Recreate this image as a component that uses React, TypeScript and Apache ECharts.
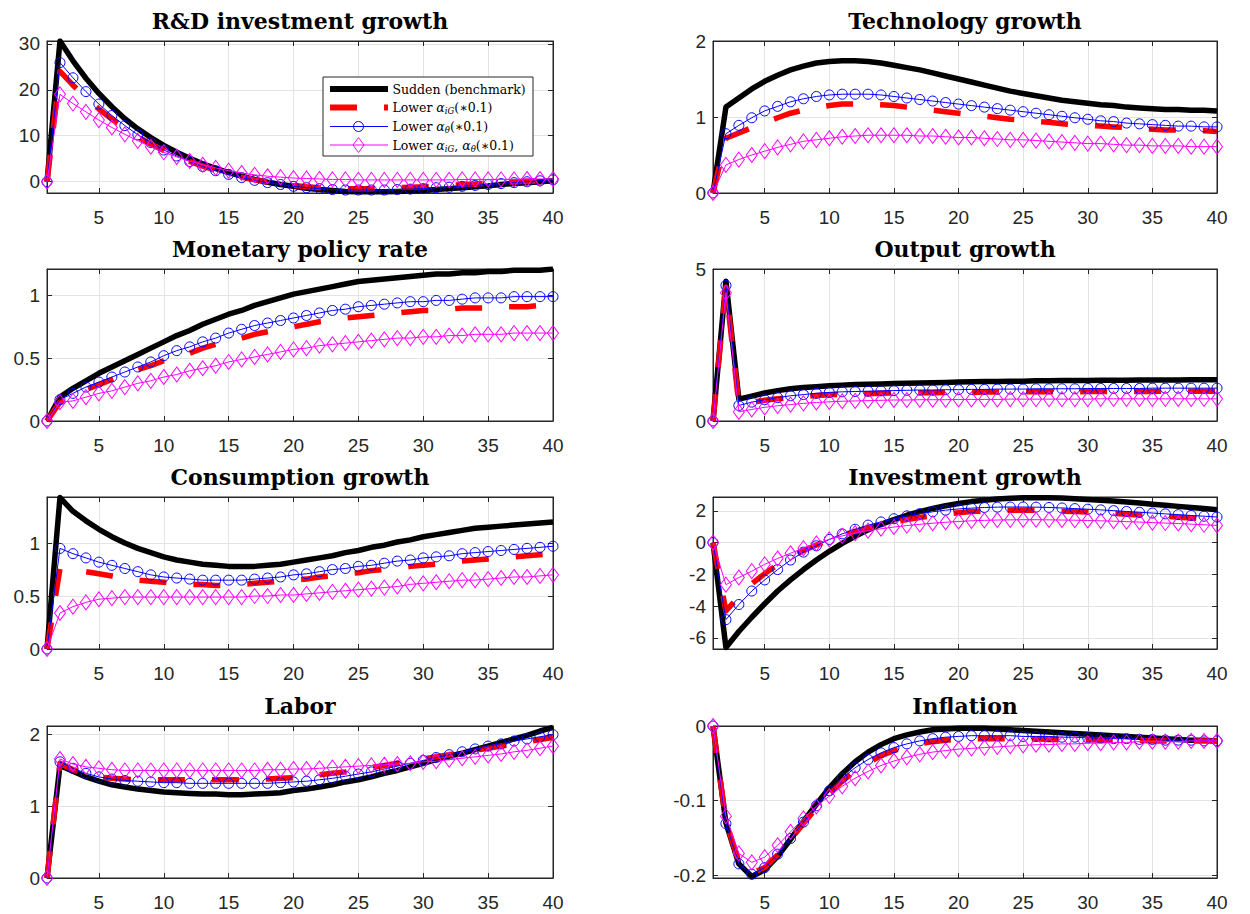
import React, { useEffect, useRef } from "react";
import * as echarts from "echarts";

// Horizon (quarters after the shock)
const periods = Array.from({ length: 40 }, (_, i) => i + 1);
const xTicks = [5, 10, 15, 20, 25, 30, 35, 40];

const scenarioNames = [
  "Sudden (benchmark)",
  "Lower αiG(∗0.1)",
  "Lower αθ(∗0.1)",
  "Lower αiG, αθ(∗0.1)",
];

// R&D investment growth
const rdSudden = [0, 30.6, 26.3, 22.5, 19.2, 16.3, 13.7, 11.5, 9.6, 7.9, 6.4, 5.1, 3.9, 2.9, 2.0, 1.2, 0.5, -0.1, -0.6, -1.0, -1.4, -1.7, -1.9, -2.1, -2.2, -2.2, -2.2, -2.1, -2.0, -1.9, -1.7, -1.5, -1.3, -1.1, -0.9, -0.6, -0.4, -0.2, 0.0, 0.2];
const rdLowIG = [0, 24.0, 21.0, 18.3, 15.8, 13.6, 11.6, 9.8, 8.2, 6.8, 5.5, 4.4, 3.4, 2.5, 1.7, 1.0, 0.4, -0.1, -0.5, -0.8, -1.1, -1.3, -1.4, -1.5, -1.5, -1.5, -1.4, -1.3, -1.2, -1.1, -0.9, -0.8, -0.6, -0.5, -0.3, -0.2, 0.0, 0.1, 0.2, 0.3];
const rdLowTheta = [0, 25.9, 22.6, 19.6, 16.9, 14.4, 12.2, 10.2, 8.5, 6.9, 5.6, 4.4, 3.3, 2.4, 1.6, 0.9, 0.3, -0.2, -0.6, -1.0, -1.3, -1.5, -1.7, -1.8, -1.8, -1.8, -1.8, -1.7, -1.6, -1.5, -1.3, -1.2, -1.0, -0.8, -0.6, -0.4, -0.2, 0.0, 0.2, 0.4];
const rdLowBoth = [0, 19.0, 17.0, 15.2, 13.4, 11.8, 10.3, 8.9, 7.6, 6.4, 5.4, 4.5, 3.7, 3.0, 2.4, 1.9, 1.5, 1.2, 1.0, 0.8, 0.7, 0.6, 0.5, 0.5, 0.4, 0.4, 0.4, 0.4, 0.4, 0.4, 0.4, 0.4, 0.5, 0.5, 0.5, 0.5, 0.5, 0.6, 0.6, 0.6];

// Technology growth
const techSudden = [0, 1.13, 1.25, 1.37, 1.47, 1.55, 1.62, 1.67, 1.71, 1.73, 1.74, 1.74, 1.73, 1.71, 1.68, 1.65, 1.62, 1.58, 1.54, 1.50, 1.46, 1.42, 1.38, 1.34, 1.31, 1.28, 1.25, 1.22, 1.20, 1.18, 1.16, 1.15, 1.13, 1.12, 1.11, 1.10, 1.10, 1.09, 1.09, 1.08];
const techLowIG = [0, 0.72, 0.79, 0.86, 0.93, 0.99, 1.05, 1.09, 1.13, 1.15, 1.17, 1.17, 1.17, 1.16, 1.15, 1.13, 1.11, 1.09, 1.07, 1.05, 1.03, 1.01, 0.99, 0.97, 0.96, 0.94, 0.93, 0.91, 0.90, 0.89, 0.88, 0.87, 0.86, 0.85, 0.84, 0.83, 0.83, 0.82, 0.82, 0.81];
const techLowTheta = [0, 0.78, 0.89, 0.99, 1.08, 1.14, 1.20, 1.24, 1.27, 1.29, 1.30, 1.30, 1.30, 1.29, 1.27, 1.25, 1.23, 1.21, 1.19, 1.17, 1.15, 1.13, 1.11, 1.09, 1.07, 1.05, 1.03, 1.01, 0.99, 0.97, 0.95, 0.94, 0.92, 0.91, 0.90, 0.89, 0.88, 0.88, 0.87, 0.87];
const techLowBoth = [0, 0.37, 0.44, 0.50, 0.55, 0.60, 0.64, 0.68, 0.70, 0.72, 0.74, 0.75, 0.76, 0.76, 0.76, 0.76, 0.75, 0.75, 0.74, 0.73, 0.73, 0.72, 0.71, 0.70, 0.70, 0.69, 0.68, 0.67, 0.66, 0.65, 0.65, 0.64, 0.63, 0.63, 0.62, 0.62, 0.62, 0.61, 0.61, 0.61];

// Monetary policy rate
const rateSudden = [0, 0.19, 0.26, 0.32, 0.38, 0.43, 0.48, 0.53, 0.58, 0.63, 0.68, 0.72, 0.77, 0.81, 0.85, 0.88, 0.92, 0.95, 0.98, 1.01, 1.03, 1.05, 1.07, 1.09, 1.11, 1.12, 1.13, 1.14, 1.15, 1.16, 1.17, 1.17, 1.18, 1.18, 1.19, 1.19, 1.20, 1.20, 1.20, 1.21];
const rateLowIG = [0, 0.15, 0.20, 0.25, 0.29, 0.33, 0.37, 0.41, 0.44, 0.48, 0.51, 0.54, 0.58, 0.61, 0.63, 0.66, 0.69, 0.71, 0.73, 0.75, 0.77, 0.79, 0.80, 0.82, 0.83, 0.84, 0.85, 0.86, 0.87, 0.88, 0.88, 0.89, 0.90, 0.90, 0.90, 0.91, 0.91, 0.91, 0.92, 0.92];
const rateLowTheta = [0, 0.17, 0.22, 0.27, 0.31, 0.35, 0.39, 0.43, 0.47, 0.52, 0.56, 0.59, 0.63, 0.66, 0.70, 0.73, 0.76, 0.78, 0.80, 0.82, 0.84, 0.86, 0.88, 0.89, 0.91, 0.92, 0.93, 0.94, 0.95, 0.95, 0.96, 0.96, 0.97, 0.98, 0.98, 0.98, 0.99, 0.99, 0.99, 0.99];
const rateLowBoth = [0, 0.15, 0.16, 0.19, 0.22, 0.24, 0.27, 0.30, 0.32, 0.35, 0.37, 0.40, 0.42, 0.44, 0.47, 0.49, 0.51, 0.53, 0.55, 0.57, 0.58, 0.60, 0.61, 0.62, 0.63, 0.64, 0.65, 0.66, 0.66, 0.67, 0.67, 0.68, 0.68, 0.69, 0.69, 0.69, 0.70, 0.70, 0.70, 0.70];

// Output growth
const outSudden = [0, 4.60, 0.72, 0.82, 0.92, 1.00, 1.06, 1.10, 1.13, 1.16, 1.18, 1.20, 1.21, 1.22, 1.23, 1.24, 1.25, 1.26, 1.27, 1.28, 1.29, 1.30, 1.30, 1.31, 1.31, 1.32, 1.32, 1.33, 1.33, 1.33, 1.34, 1.34, 1.34, 1.35, 1.35, 1.35, 1.35, 1.36, 1.36, 1.36];
const outLowIG = [0, 4.40, 0.55, 0.62, 0.68, 0.73, 0.77, 0.81, 0.84, 0.86, 0.88, 0.89, 0.90, 0.91, 0.92, 0.92, 0.93, 0.93, 0.94, 0.94, 0.94, 0.95, 0.95, 0.95, 0.96, 0.96, 0.96, 0.96, 0.96, 0.97, 0.97, 0.97, 0.97, 0.97, 0.97, 0.98, 0.98, 0.98, 0.98, 0.98];
const outLowTheta = [0, 4.46, 0.51, 0.62, 0.70, 0.77, 0.83, 0.87, 0.91, 0.94, 0.96, 0.97, 0.98, 0.99, 1.00, 1.01, 1.02, 1.02, 1.03, 1.03, 1.04, 1.04, 1.05, 1.05, 1.05, 1.06, 1.06, 1.06, 1.06, 1.07, 1.07, 1.07, 1.07, 1.07, 1.08, 1.08, 1.08, 1.08, 1.08, 1.08];
const outLowBoth = [0, 4.22, 0.30, 0.38, 0.45, 0.50, 0.54, 0.58, 0.61, 0.63, 0.65, 0.66, 0.67, 0.68, 0.69, 0.69, 0.70, 0.70, 0.70, 0.71, 0.71, 0.71, 0.71, 0.72, 0.72, 0.72, 0.72, 0.72, 0.72, 0.72, 0.73, 0.73, 0.73, 0.73, 0.73, 0.73, 0.73, 0.73, 0.73, 0.73];

// Consumption growth
const consSudden = [0, 1.43, 1.30, 1.21, 1.13, 1.06, 1.00, 0.95, 0.91, 0.87, 0.84, 0.82, 0.80, 0.79, 0.78, 0.78, 0.78, 0.79, 0.80, 0.82, 0.84, 0.86, 0.88, 0.91, 0.93, 0.96, 0.98, 1.01, 1.03, 1.06, 1.08, 1.10, 1.12, 1.14, 1.15, 1.16, 1.17, 1.18, 1.19, 1.20];
const consLowIG = [0, 0.76, 0.74, 0.73, 0.71, 0.69, 0.67, 0.65, 0.64, 0.63, 0.62, 0.61, 0.61, 0.60, 0.60, 0.61, 0.62, 0.63, 0.64, 0.65, 0.66, 0.68, 0.69, 0.71, 0.72, 0.74, 0.75, 0.76, 0.78, 0.79, 0.80, 0.82, 0.83, 0.84, 0.85, 0.86, 0.87, 0.88, 0.89, 0.90];
const consLowTheta = [0, 0.95, 0.90, 0.86, 0.82, 0.79, 0.76, 0.73, 0.70, 0.68, 0.67, 0.66, 0.65, 0.65, 0.65, 0.65, 0.66, 0.67, 0.68, 0.70, 0.71, 0.73, 0.75, 0.76, 0.78, 0.79, 0.81, 0.83, 0.84, 0.86, 0.87, 0.88, 0.90, 0.91, 0.92, 0.93, 0.94, 0.95, 0.96, 0.97];
const consLowBoth = [0, 0.34, 0.40, 0.44, 0.47, 0.48, 0.49, 0.49, 0.49, 0.49, 0.49, 0.49, 0.49, 0.49, 0.49, 0.49, 0.50, 0.50, 0.51, 0.51, 0.52, 0.53, 0.54, 0.55, 0.56, 0.57, 0.58, 0.59, 0.61, 0.62, 0.63, 0.64, 0.65, 0.65, 0.66, 0.67, 0.68, 0.68, 0.69, 0.70];

// Investment growth
const invSudden = [0, -6.6, -5.6, -4.7, -3.85, -3.05, -2.35, -1.7, -1.1, -0.55, -0.05, 0.4, 0.8, 1.15, 1.45, 1.72, 1.95, 2.15, 2.32, 2.46, 2.58, 2.67, 2.74, 2.79, 2.82, 2.83, 2.82, 2.80, 2.76, 2.72, 2.67, 2.62, 2.56, 2.49, 2.42, 2.35, 2.28, 2.21, 2.14, 2.07];
const invLowIG = [0, -4.3, -3.4, -2.6, -1.95, -1.4, -0.9, -0.5, -0.15, 0.15, 0.45, 0.7, 0.92, 1.12, 1.3, 1.45, 1.58, 1.7, 1.8, 1.88, 1.95, 1.99, 2.02, 2.04, 2.04, 2.03, 2.01, 1.98, 1.95, 1.92, 1.88, 1.84, 1.79, 1.74, 1.7, 1.65, 1.6, 1.55, 1.5, 1.45];
const invLowTheta = [0, -4.85, -3.9, -3.05, -2.35, -1.7, -1.1, -0.6, -0.2, 0.2, 0.55, 0.84, 1.1, 1.3, 1.5, 1.68, 1.82, 1.94, 2.04, 2.12, 2.17, 2.21, 2.23, 2.24, 2.24, 2.23, 2.21, 2.18, 2.14, 2.10, 2.06, 2.01, 1.96, 1.91, 1.86, 1.81, 1.76, 1.71, 1.66, 1.61];
const invLowBoth = [0, -2.65, -2.2, -1.8, -1.37, -1.0, -0.67, -0.35, -0.05, 0.2, 0.42, 0.6, 0.75, 0.87, 0.98, 1.07, 1.15, 1.22, 1.28, 1.33, 1.37, 1.40, 1.42, 1.43, 1.44, 1.44, 1.43, 1.42, 1.41, 1.39, 1.37, 1.35, 1.32, 1.29, 1.26, 1.23, 1.20, 1.16, 1.12, 1.08];

// Labor
const labSudden = [0, 1.57, 1.49, 1.41, 1.35, 1.30, 1.27, 1.24, 1.22, 1.20, 1.19, 1.18, 1.17, 1.17, 1.16, 1.16, 1.17, 1.18, 1.19, 1.22, 1.24, 1.27, 1.30, 1.34, 1.37, 1.41, 1.46, 1.50, 1.55, 1.60, 1.65, 1.70, 1.74, 1.79, 1.84, 1.89, 1.94, 1.99, 2.05, 2.10];
const labLowIG = [0, 1.60, 1.51, 1.45, 1.41, 1.39, 1.38, 1.37, 1.37, 1.37, 1.37, 1.37, 1.37, 1.37, 1.37, 1.37, 1.38, 1.38, 1.39, 1.40, 1.42, 1.44, 1.46, 1.48, 1.51, 1.54, 1.57, 1.60, 1.63, 1.66, 1.69, 1.72, 1.75, 1.78, 1.81, 1.84, 1.87, 1.90, 1.93, 1.96];
const labLowTheta = [0, 1.62, 1.53, 1.46, 1.41, 1.38, 1.36, 1.35, 1.34, 1.33, 1.33, 1.32, 1.32, 1.32, 1.32, 1.32, 1.32, 1.32, 1.33, 1.34, 1.35, 1.37, 1.39, 1.42, 1.45, 1.48, 1.52, 1.56, 1.60, 1.64, 1.68, 1.72, 1.76, 1.80, 1.84, 1.87, 1.91, 1.94, 1.97, 2.00];
const labLowBoth = [0, 1.66, 1.59, 1.55, 1.53, 1.51, 1.50, 1.50, 1.50, 1.50, 1.50, 1.50, 1.50, 1.50, 1.50, 1.50, 1.50, 1.51, 1.51, 1.52, 1.52, 1.53, 1.54, 1.55, 1.56, 1.57, 1.58, 1.59, 1.60, 1.62, 1.63, 1.65, 1.67, 1.69, 1.71, 1.73, 1.76, 1.78, 1.81, 1.84];

// Inflation
const infSudden = [0, -0.130, -0.185, -0.202, -0.193, -0.175, -0.152, -0.128, -0.105, -0.083, -0.064, -0.048, -0.035, -0.025, -0.017, -0.012, -0.008, -0.005, -0.004, -0.003, -0.003, -0.003, -0.004, -0.005, -0.006, -0.007, -0.008, -0.009, -0.010, -0.011, -0.012, -0.013, -0.014, -0.015, -0.016, -0.017, -0.018, -0.019, -0.019, -0.020];
const infLowIG = [0, -0.128, -0.182, -0.198, -0.190, -0.173, -0.152, -0.131, -0.110, -0.091, -0.074, -0.060, -0.049, -0.040, -0.033, -0.028, -0.024, -0.021, -0.019, -0.018, -0.017, -0.017, -0.017, -0.017, -0.017, -0.017, -0.018, -0.018, -0.018, -0.018, -0.019, -0.019, -0.019, -0.019, -0.020, -0.020, -0.020, -0.020, -0.020, -0.020];
const infLowTheta = [0, -0.131, -0.185, -0.199, -0.190, -0.172, -0.151, -0.129, -0.107, -0.087, -0.070, -0.056, -0.045, -0.036, -0.029, -0.024, -0.020, -0.017, -0.015, -0.014, -0.013, -0.013, -0.013, -0.013, -0.014, -0.014, -0.014, -0.015, -0.015, -0.016, -0.016, -0.017, -0.017, -0.018, -0.018, -0.019, -0.019, -0.019, -0.020, -0.020];
const infLowBoth = [0, -0.121, -0.171, -0.183, -0.176, -0.160, -0.142, -0.124, -0.108, -0.094, -0.081, -0.070, -0.061, -0.053, -0.047, -0.042, -0.038, -0.035, -0.033, -0.031, -0.030, -0.029, -0.028, -0.027, -0.026, -0.025, -0.025, -0.024, -0.024, -0.023, -0.023, -0.022, -0.022, -0.021, -0.021, -0.021, -0.021, -0.020, -0.020, -0.020];

// Panel titles, y-limits and y tick values
const panelTitles = [
  "R&D investment growth", "Technology growth",
  "Monetary policy rate", "Output growth",
  "Consumption growth", "Investment growth",
  "Labor", "Inflation",
];
const yLimits = [
  [-2.45, 30.6], [0, 2],
  [0, 1.21], [0, 5],
  [0, 1.435], [-6.7, 2.87],
  [0, 2.12], [-0.204, 0],
];
const yTicks = [
  [0, 10, 20, 30], [0, 1, 2],
  [0, 0.5, 1], [0, 5],
  [0, 0.5, 1], [-6, -4, -2, 0, 2],
  [0, 1, 2], [-0.2, -0.1, 0],
];
const panelData = [
  [rdSudden, rdLowIG, rdLowTheta, rdLowBoth],
  [techSudden, techLowIG, techLowTheta, techLowBoth],
  [rateSudden, rateLowIG, rateLowTheta, rateLowBoth],
  [outSudden, outLowIG, outLowTheta, outLowBoth],
  [consSudden, consLowIG, consLowTheta, consLowBoth],
  [invSudden, invLowIG, invLowTheta, invLowBoth],
  [labSudden, labLowIG, labLowTheta, labLowBoth],
  [infSudden, infLowIG, infLowTheta, infLowBoth],
];

const AXIS = "#262626";
const GRIDLINE = "#e3e3e3";
const BLUE = "#0000ff";
const MAGENTA = "#ff00ff";
const RED = "#ff0000";

const colLeft = [47, 713];
const colWidth = [506, 504];
const rowTop = [41, 269, 497, 726];
const rowHeight = 152;

const lineStyles = [
  { color: "#000000", width: 5.5, type: "solid" as any, symbol: "none", size: 0 as any },
  { color: RED, width: 5.5, type: [27, 27] as any, symbol: "none", size: 0 as any },
  { color: BLUE, width: 1, type: "solid" as any, symbol: "circle", size: 10 as any },
  { color: MAGENTA, width: 1, type: "solid" as any, symbol: "diamond", size: [11, 15] as any },
];

function buildOption() {
  const grids: any[] = [];
  const xAxes: any[] = [];
  const yAxes: any[] = [];
  const series: any[] = [];
  const graphics: any[] = [];

  panelTitles.forEach((title, i) => {
    const col = i % 2;
    const row = Math.floor(i / 2);
    const left = colLeft[col];
    const top = rowTop[row];
    const width = colWidth[col];
    grids.push({
      left, top, width, height: rowHeight,
      show: true, borderColor: AXIS, borderWidth: 1, backgroundColor: "#ffffff",
    });
    const tickLine = { lineStyle: { color: AXIS, width: 1 } };
    xAxes.push({
      type: "value", gridIndex: i, min: 1, max: 40,
      axisLine: { show: true, onZero: false, lineStyle: { color: AXIS, width: 1 } },
      axisTick: { show: true, inside: true, length: 5, customValues: xTicks, ...tickLine },
      axisLabel: {
        customValues: xTicks, fontSize: 19, color: AXIS, margin: 15,
        fontFamily: "Liberation Sans",
      },
      splitLine: { show: true, lineStyle: { color: GRIDLINE, width: 1 } },
    });
    xAxes.push({
      type: "value", gridIndex: i, min: 1, max: 40, position: "top",
      axisLine: { show: true, onZero: false, lineStyle: { color: AXIS, width: 1 } },
      axisTick: { show: true, inside: true, length: 5, customValues: xTicks, ...tickLine },
      axisLabel: { show: false },
      splitLine: { show: false },
    });
    const [ymin, ymax] = yLimits[i];
    yAxes.push({
      type: "value", gridIndex: i, min: ymin, max: ymax,
      axisLine: { show: true, onZero: false, lineStyle: { color: AXIS, width: 1 } },
      axisTick: { show: true, inside: true, length: 5, customValues: yTicks[i], ...tickLine },
      axisLabel: {
        customValues: yTicks[i], fontSize: 19, color: AXIS, margin: 7,
        fontFamily: "Liberation Sans", formatter: (v: number) => String(v),
      },
      splitLine: { show: true, lineStyle: { color: GRIDLINE, width: 1 } },
    });
    yAxes.push({
      type: "value", gridIndex: i, min: ymin, max: ymax, position: "right",
      axisLine: { show: true, onZero: false, lineStyle: { color: AXIS, width: 1 } },
      axisTick: { show: true, inside: true, length: 5, customValues: yTicks[i], ...tickLine },
      axisLabel: { show: false },
      splitLine: { show: false },
    });

    panelData[i].forEach((values, s) => {
      const st = lineStyles[s];
      series.push({
        type: "line",
        name: scenarioNames[s],
        xAxisIndex: 2 * i,
        yAxisIndex: 2 * i,
        data: values.map((v, k) => [periods[k], v]),
        symbol: st.symbol,
        symbolSize: st.size,
        showSymbol: st.symbol !== "none",
        clip: true,
        lineStyle: { color: st.color, width: st.width, type: st.type, cap: "butt", join: "round" },
        itemStyle: { color: "rgba(0,0,0,0)", borderColor: st.color, borderWidth: 1 },
        emphasis: { disabled: true },
        silent: true,
        z: 2 + s,
      });
    });

    graphics.push({
      type: "text",
      x: left + width / 2,
      y: top - 20,
      z: 50,
      style: {
        text: title,
        font: 'bold 22px "DejaVu Serif"',
        fill: "#000000",
        textAlign: "center",
        textVerticalAlign: "middle",
      },
    });
  });

  // Legend box inside the first panel, drawn above the gridlines and curves
  const lx = 323, ly = 77, lw = 210, lh = 79;
  const rowsY = [89, 107.5, 126.5, 145];
  const sx0 = 330, sx1 = 388, sxm = 358.5, tx = 392.5;
  const rich = {
    r: { fontFamily: "DejaVu Serif", fontSize: 12.5, fill: "#000", color: "#000", lineHeight: 16 },
    m: { fontFamily: "DejaVu Serif", fontStyle: "italic", fontSize: 12.5, fill: "#000", color: "#000", lineHeight: 16 },
    s: { fontFamily: "DejaVu Serif", fontStyle: "italic", fontSize: 8.5, fill: "#000", color: "#000", lineHeight: 16, verticalAlign: "bottom" },
  };
  const legendTexts = [
    "{r|Sudden (benchmark)}",
    "{r|Lower }{m|α}{s|iG}{r|(∗0.1)}",
    "{r|Lower }{m|α}{s|θ}{r|(∗0.1)}",
    "{r|Lower }{m|α}{s|iG}{r|, }{m|α}{s|θ}{r|(∗0.1)}",
  ];
  const LZ = 200;
  const legendItems: any[] = [
    { type: "rect", z: LZ, shape: { x: lx, y: ly, width: lw, height: lh }, style: { fill: "#ffffff", stroke: AXIS, lineWidth: 1 } },
    { type: "line", z: LZ + 1, shape: { x1: sx0, y1: rowsY[0], x2: sx1, y2: rowsY[0] }, style: { stroke: "#000", lineWidth: 6 } },
    { type: "line", z: LZ + 1, shape: { x1: sx0, y1: rowsY[1], x2: sx1, y2: rowsY[1] }, style: { stroke: RED, lineWidth: 6, lineDash: [27, 27] } },
    { type: "line", z: LZ + 1, shape: { x1: sx0, y1: rowsY[2], x2: sx1, y2: rowsY[2] }, style: { stroke: BLUE, lineWidth: 1 } },
    { type: "circle", z: LZ + 2, shape: { cx: sxm, cy: rowsY[2], r: 5 }, style: { fill: "none", stroke: BLUE, lineWidth: 1 } },
    { type: "line", z: LZ + 1, shape: { x1: sx0, y1: rowsY[3], x2: sx1, y2: rowsY[3] }, style: { stroke: MAGENTA, lineWidth: 1 } },
    {
      type: "polygon", z: LZ + 2,
      shape: { points: [[sxm, rowsY[3] - 7.5], [sxm + 5.5, rowsY[3]], [sxm, rowsY[3] + 7.5], [sxm - 5.5, rowsY[3]]] },
      style: { fill: "none", stroke: MAGENTA, lineWidth: 1 },
    },
  ];
  legendTexts.forEach((t, k) => {
    legendItems.push({
      type: "text",
      z: LZ + 2,
      x: tx,
      y: rowsY[k],
      style: { text: t, rich, textAlign: "left", textVerticalAlign: "middle", fill: "#000" },
    });
  });
  graphics.push(...legendItems);

  return {
    animation: false,
    backgroundColor: "#ffffff",
    grid: grids,
    xAxis: xAxes,
    yAxis: yAxes,
    series,
    graphic: graphics,
  };
}

export default function App() {
  const ref = useRef<HTMLDivElement>(null);
  useEffect(() => {
    document.body.style.margin = "0";
    if (!ref.current) return;
    const chart = echarts.init(ref.current, undefined, { renderer: "svg" });
    chart.setOption(buildOption() as any);
    return () => chart.dispose();
  }, []);
  return <div ref={ref} style={{ width: 1250, height: 914 }} />;
}
